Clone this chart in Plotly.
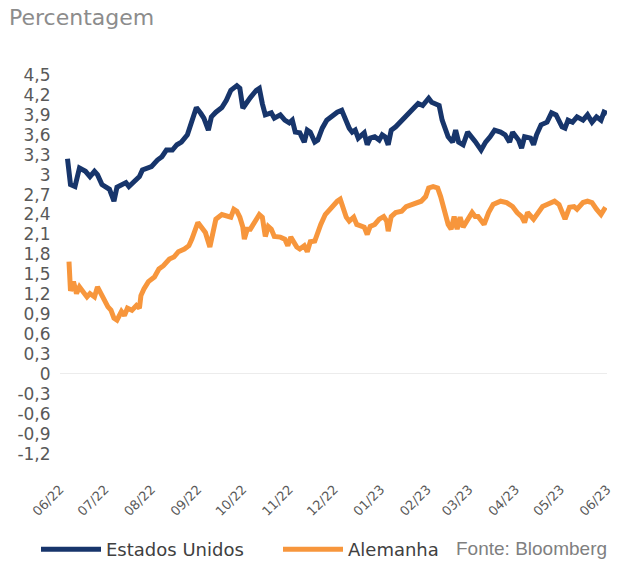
import plotly.graph_objects as go

# 10y government bond yields (%)
us_dates = [
    "2022-06-06", "2022-06-08", "2022-06-11", "2022-06-14", "2022-06-18", "2022-06-21", "2022-06-24",
    "2022-06-26", "2022-06-29", "2022-07-02", "2022-07-04", "2022-07-06", "2022-07-07", "2022-07-09",
    "2022-07-12", "2022-07-15", "2022-07-17", "2022-07-21", "2022-07-24", "2022-07-26", "2022-07-29",
    "2022-08-01", "2022-08-05", "2022-08-08", "2022-08-11", "2022-08-15", "2022-08-18", "2022-08-21",
    "2022-08-25", "2022-08-27", "2022-08-29", "2022-08-31", "2022-09-03", "2022-09-05", "2022-09-08",
    "2022-09-10", "2022-09-13", "2022-09-17", "2022-09-20", "2022-09-23", "2022-09-27", "2022-09-29",
    "2022-10-01", "2022-10-03", "2022-10-06", "2022-10-10", "2022-10-12", "2022-10-14", "2022-10-16",
    "2022-10-20", "2022-10-22", "2022-10-26", "2022-10-29", "2022-11-01", "2022-11-03", "2022-11-05",
    "2022-11-08", "2022-11-11", "2022-11-13", "2022-11-15", "2022-11-18", "2022-11-20", "2022-11-23",
    "2022-11-26", "2022-11-30", "2022-12-03", "2022-12-06", "2022-12-08", "2022-12-11", "2022-12-13",
    "2022-12-15", "2022-12-17", "2022-12-21", "2022-12-23", "2022-12-25", "2022-12-28", "2022-12-31",
    "2023-01-02", "2023-01-04", "2023-01-06", "2023-01-08", "2023-01-11", "2023-01-15", "2023-01-18",
    "2023-01-20", "2023-01-23", "2023-01-26", "2023-01-29", "2023-02-02", "2023-02-04", "2023-02-07",
    "2023-02-09", "2023-02-11", "2023-02-13", "2023-02-15", "2023-02-18", "2023-02-20", "2023-02-22",
    "2023-02-25", "2023-02-28", "2023-03-03", "2023-03-05", "2023-03-09", "2023-03-12", "2023-03-15",
    "2023-03-18", "2023-03-22", "2023-03-25", "2023-03-28", "2023-03-30", "2023-04-03", "2023-04-05",
    "2023-04-07", "2023-04-11", "2023-04-13", "2023-04-15", "2023-04-18", "2023-04-22", "2023-04-25",
    "2023-04-28", "2023-05-02", "2023-05-04", "2023-05-06", "2023-05-09", "2023-05-12", "2023-05-16",
    "2023-05-19", "2023-05-22", "2023-05-25", "2023-05-28", "2023-05-30", "2023-06-01",
]
us_vals = [
    3.24, 2.85, 2.82, 3.10, 3.05, 2.97, 3.05, 3.00, 2.85, 2.82, 2.78, 2.66, 2.60, 2.81,
    2.85, 2.88, 2.82, 2.92, 2.97, 3.07, 3.10, 3.12, 3.22, 3.27, 3.37, 3.37, 3.45, 3.49,
    3.60, 3.72, 3.87, 4.01, 3.92, 3.85, 3.67, 3.87, 3.94, 4.01, 4.12, 4.27, 4.34, 4.30,
    4.00, 4.07, 4.16, 4.27, 4.30, 4.07, 3.90, 3.93, 3.85, 3.90, 3.82, 3.78, 3.82, 3.64,
    3.63, 3.49, 3.67, 3.64, 3.49, 3.52, 3.70, 3.82, 3.90, 3.94, 3.97, 3.85, 3.70, 3.64,
    3.67, 3.55, 3.63, 3.45, 3.55, 3.57, 3.52, 3.60, 3.57, 3.45, 3.67, 3.72, 3.82, 3.87,
    3.94, 4.01, 4.07, 4.04, 4.15, 4.09, 4.07, 4.04, 3.82, 3.70, 3.57, 3.49, 3.67, 3.49,
    3.45, 3.64, 3.57, 3.50, 3.37, 3.49, 3.57, 3.67, 3.64, 3.60, 3.49, 3.64, 3.52, 3.40,
    3.57, 3.55, 3.45, 3.60, 3.75, 3.79, 3.93, 3.90, 3.72, 3.70, 3.82, 3.79, 3.87, 3.82,
    3.90, 3.79, 3.87, 3.82, 3.94, 3.92,
]

de_dates = [
    "2022-06-07", "2022-06-08", "2022-06-10", "2022-06-12", "2022-06-14", "2022-06-16", "2022-06-19",
    "2022-06-21", "2022-06-24", "2022-06-26", "2022-06-29", "2022-07-01", "2022-07-03", "2022-07-05",
    "2022-07-07", "2022-07-09", "2022-07-12", "2022-07-14", "2022-07-16", "2022-07-19", "2022-07-22",
    "2022-07-24", "2022-07-25", "2022-07-27", "2022-07-30", "2022-08-03", "2022-08-06", "2022-08-09",
    "2022-08-13", "2022-08-16", "2022-08-19", "2022-08-23", "2022-08-26", "2022-08-28", "2022-08-30",
    "2022-09-01", "2022-09-03", "2022-09-06", "2022-09-09", "2022-09-11", "2022-09-13", "2022-09-17",
    "2022-09-20", "2022-09-23", "2022-09-25", "2022-09-27", "2022-09-29", "2022-10-01", "2022-10-02",
    "2022-10-04", "2022-10-06", "2022-10-10", "2022-10-12", "2022-10-14", "2022-10-16", "2022-10-18",
    "2022-10-20", "2022-10-22", "2022-10-26", "2022-10-29", "2022-10-31", "2022-11-02", "2022-11-04",
    "2022-11-06", "2022-11-08", "2022-11-11", "2022-11-13", "2022-11-15", "2022-11-18", "2022-11-20",
    "2022-11-22", "2022-11-25", "2022-11-28", "2022-11-30", "2022-12-03", "2022-12-05", "2022-12-07",
    "2022-12-09", "2022-12-11", "2022-12-14", "2022-12-16", "2022-12-19", "2022-12-21", "2022-12-23",
    "2022-12-25", "2022-12-28", "2022-12-31", "2023-01-03", "2023-01-05", "2023-01-06", "2023-01-08",
    "2023-01-11", "2023-01-15", "2023-01-18", "2023-01-21", "2023-01-25", "2023-01-28", "2023-01-31",
    "2023-02-02", "2023-02-05", "2023-02-08", "2023-02-10", "2023-02-12", "2023-02-15", "2023-02-17",
    "2023-02-19", "2023-02-21", "2023-02-23", "2023-02-25", "2023-03-01", "2023-03-03", "2023-03-05",
    "2023-03-07", "2023-03-11", "2023-03-14", "2023-03-17", "2023-03-22", "2023-03-26", "2023-03-30",
    "2023-04-02", "2023-04-05", "2023-04-07", "2023-04-09", "2023-04-13", "2023-04-16", "2023-04-19",
    "2023-04-22", "2023-04-27", "2023-04-30", "2023-05-04", "2023-05-07", "2023-05-10", "2023-05-12",
    "2023-05-16", "2023-05-19", "2023-05-22", "2023-05-25", "2023-05-28", "2023-05-31",
]
de_vals = [
    1.69, 1.25, 1.39, 1.21, 1.31, 1.25, 1.16, 1.21, 1.16, 1.31, 1.18, 1.09, 1.01, 0.96,
    0.84, 0.81, 0.94, 0.88, 0.99, 0.96, 1.03, 0.99, 1.18, 1.28, 1.39, 1.46, 1.58, 1.63,
    1.73, 1.76, 1.84, 1.88, 1.93, 2.03, 2.15, 2.28, 2.22, 2.13, 1.91, 2.10, 2.33, 2.40,
    2.37, 2.36, 2.48, 2.45, 2.36, 2.21, 2.03, 2.18, 2.18, 2.33, 2.40, 2.36, 2.07, 2.22,
    2.18, 2.07, 2.06, 2.03, 1.93, 2.06, 1.99, 1.91, 1.88, 1.93, 1.84, 1.99, 2.00, 2.15,
    2.25, 2.40, 2.48, 2.52, 2.60, 2.63, 2.51, 2.36, 2.30, 2.36, 2.25, 2.22, 2.21, 2.10,
    2.22, 2.25, 2.33, 2.37, 2.30, 2.15, 2.37, 2.43, 2.45, 2.52, 2.55, 2.58, 2.60, 2.67,
    2.80, 2.82, 2.80, 2.67, 2.52, 2.25, 2.18, 2.37, 2.18, 2.36, 2.21, 2.36, 2.43, 2.37,
    2.37, 2.25, 2.43, 2.55, 2.60, 2.58, 2.52, 2.43, 2.37, 2.28, 2.43, 2.33, 2.43, 2.52,
    2.55, 2.60, 2.55, 2.33, 2.51, 2.52, 2.48, 2.58, 2.60, 2.58, 2.48, 2.40, 2.51,
]

y_ticks = [4.5, 4.2, 3.9, 3.6, 3.3, 3.0, 2.7, 2.4, 2.1, 1.8, 1.5, 1.2, 0.9, 0.6, 0.3,
           0.0, -0.3, -0.6, -0.9, -1.2]
y_labels = ["4,5", "4,2", "3,9", "3,6", "3,3", "3", "2,7", "2,4", "2,1", "1,8", "1,5",
            "1,2", "0,9", "0,6", "0,3", "0", "-0,3", "-0,6", "-0,9", "-1,2"]
x_ticks = ["2022-06-01", "2022-07-01", "2022-08-01", "2022-09-01", "2022-10-01",
           "2022-11-01", "2022-12-01", "2023-01-01", "2023-02-01", "2023-03-01",
           "2023-04-01", "2023-05-01", "2023-06-01"]
x_labels = ["06/22", "07/22", "08/22", "09/22", "10/22", "11/22", "12/22",
            "01/23", "02/23", "03/23", "04/23", "05/23", "06/23"]

BLUE = "#17356b"
ORANGE = "#f7963c"
FONT = "DejaVu Sans"

fig = go.Figure()
fig.add_trace(go.Scatter(x=us_dates, y=us_vals, name="Estados Unidos", mode="lines",
                         line=dict(color=BLUE, width=5)))
fig.add_trace(go.Scatter(x=de_dates, y=de_vals, name="Alemanha", mode="lines",
                         line=dict(color=ORANGE, width=5)))

fig.update_layout(
    width=626, height=561,
    paper_bgcolor="white", plot_bgcolor="white",
    margin=dict(l=60, r=13, t=75, b=106),
    font=dict(family=FONT, color="#595959"),
    title=dict(text="Percentagem", xref="container", yref="container",
               x=9 / 626, xanchor="left", y=1 - 10 / 561, yanchor="top",
               font=dict(family=FONT, size=22, color="#8c8c8c")),
    showlegend=True,
    legend=dict(orientation="h", xref="container", yref="container",
                x=36 / 626, xanchor="left", y=1 - 531 / 561, yanchor="top",
                font=dict(family=FONT, size=18, color="#404040"),
                itemwidth=60, entrywidth=167, tracegroupgap=0,
                bgcolor="rgba(0,0,0,0)"),
    annotations=[dict(text="Fonte: Bloomberg", xref="paper", yref="paper",
                      x=(458 - 60) / 553, xanchor="left", y=-0.25, yanchor="middle",
                      showarrow=False,
                      font=dict(family="Liberation Sans", size=19, color="#7f7f7f"))],
)
fig.update_xaxes(
    type="date", range=["2022-06-01", "2023-06-01"],
    tickvals=x_ticks, ticktext=x_labels, tickangle=-45,
    tickfont=dict(family=FONT, size=13, color="#595959"),
    ticks="outside", ticklen=22, tickcolor="rgba(0,0,0,0)",
    showgrid=False, showline=False, zeroline=False,
)
fig.update_yaxes(
    range=[-1.2, 4.5], tickvals=y_ticks, ticktext=y_labels,
    tickfont=dict(family=FONT, size=17, color="#595959"),
    ticks="outside", ticklen=5, tickcolor="rgba(0,0,0,0)",
    showgrid=False, showline=False,
    zeroline=True, zerolinecolor="#ececec", zerolinewidth=1,
)

fig.write_html("out.html", config={"displayModeBar": False},
               post_script="document.body.style.margin = '0';")
